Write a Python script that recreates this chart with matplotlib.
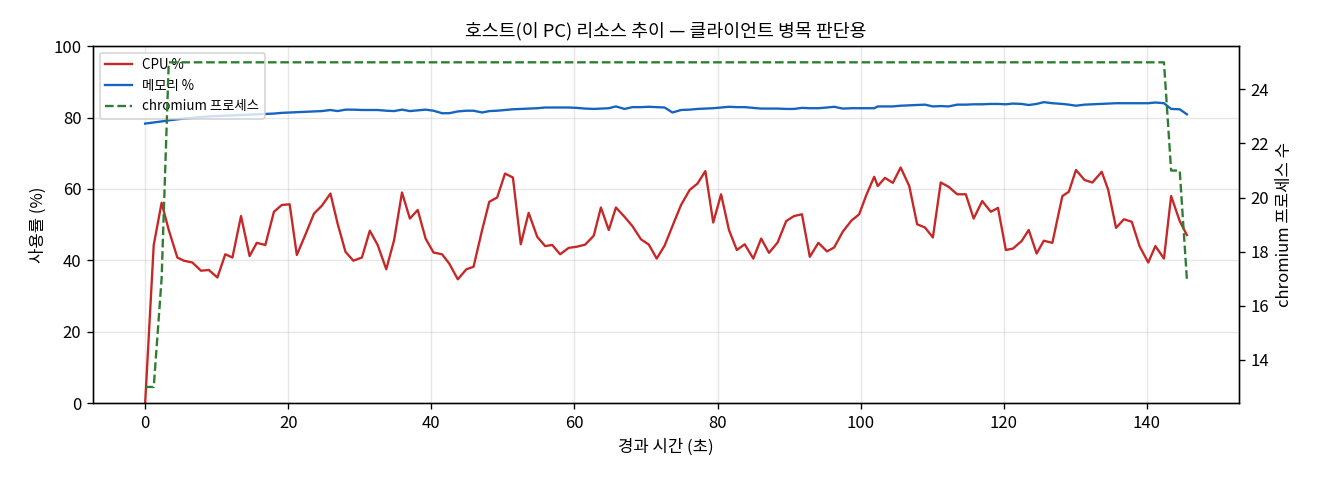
import matplotlib
matplotlib.use("Agg")
import matplotlib.pyplot as plt

plt.rcParams['font.family'] = ['Noto Sans CJK KR', 'DejaVu Sans']
plt.rcParams['axes.unicode_minus'] = False

# elapsed seconds of each sample
t = [0.0, 1.2, 2.3, 3.3, 4.5, 5.4, 6.6, 7.8, 8.9, 10.1,
     11.2, 12.2, 13.4, 14.6, 15.6, 16.8, 18.0, 19.1, 20.2, 21.2,
     22.4, 23.6, 24.7, 25.9, 26.9, 28.0, 29.1, 30.3, 31.4, 32.5,
     33.7, 34.8, 35.9, 37.0, 38.1, 39.2, 40.3, 41.5, 42.5, 43.7,
     44.9, 45.9, 47.1, 48.1, 49.2, 50.3, 51.4, 52.5, 53.6, 54.8,
     55.9, 56.9, 58.0, 59.2, 60.3, 61.5, 62.7, 63.7, 64.8, 65.8,
     67.0, 68.1, 69.3, 70.4, 71.5, 72.6, 73.7, 74.9, 76.1, 77.2,
     78.3, 79.4, 80.5, 81.6, 82.7, 83.8, 85.0, 86.1, 87.2, 88.4,
     89.6, 90.7, 91.8, 92.9, 94.1, 95.3, 96.3, 97.5, 98.7, 99.8,
     100.8, 101.9, 102.4, 103.4, 104.5, 105.6, 106.8, 107.9, 109.0, 110.1,
     111.2, 112.3, 113.5, 114.7, 115.8, 117.0, 118.2, 119.2, 120.3, 121.3,
     122.5, 123.5, 124.6, 125.6, 126.8, 128.2, 129.1, 130.1, 131.3, 132.4,
     133.7, 134.6, 135.7, 136.8, 137.9, 139.0, 140.2, 141.2, 142.4, 143.4,
     144.6, 145.6]

cpu = [0.0, 44.3, 56.1, 48.5, 40.8, 39.9, 39.4, 37.1, 37.3, 35.2,
       41.7, 40.8, 52.4, 41.2, 44.9, 44.3, 53.6, 55.5, 55.7, 41.5,
       47.2, 53.1, 55.3, 58.7, 50.3, 42.4, 39.9, 40.8, 48.3, 44.3,
       37.5, 45.7, 59.0, 51.7, 54.1, 46.1, 42.2, 41.7, 39.1, 34.7,
       37.5, 38.2, 48.5, 56.4, 57.6, 64.3, 63.2, 44.5, 53.3, 46.6,
       44.0, 44.3, 41.7, 43.5, 43.8, 44.4, 46.9, 54.8, 48.5, 54.8,
       52.2, 49.6, 45.9, 44.4, 40.5, 44.1, 49.6, 55.5, 59.7, 61.5,
       65.0, 50.6, 58.5, 48.5, 42.9, 44.5, 40.5, 46.1, 42.1, 45.0,
       51.0, 52.4, 52.9, 41.0, 44.9, 42.5, 43.6, 48.0, 51.1, 52.9,
       58.3, 63.4, 60.8, 63.1, 61.7, 66.0, 60.8, 50.1, 49.2, 46.4,
       61.8, 60.6, 58.5, 58.5, 51.7, 56.6, 53.6, 54.7, 42.9, 43.3,
       45.4, 48.5, 41.9, 45.5, 44.9, 58.0, 59.2, 65.3, 62.5, 61.8,
       64.8, 59.8, 49.1, 51.5, 50.8, 43.9, 39.4, 44.0, 40.5, 58.0,
       51.0, 47.1]

mem = [78.3, 78.6, 78.9, 79.2, 79.5, 79.7, 79.9, 80.1, 80.3, 80.4,
       80.5, 80.6, 80.7, 80.8, 80.9, 81.0, 81.1, 81.3, 81.4, 81.5,
       81.6, 81.7, 81.8, 82.1, 81.8, 82.2, 82.2, 82.1, 82.1, 82.1,
       81.9, 81.8, 82.2, 81.8, 82.0, 82.2, 81.9, 81.2, 81.2, 81.7,
       81.9, 81.9, 81.4, 81.8, 81.9, 82.1, 82.3, 82.4, 82.5, 82.6,
       82.8, 82.8, 82.8, 82.8, 82.7, 82.5, 82.4, 82.5, 82.6, 83.1,
       82.4, 82.9, 82.9, 83.0, 82.9, 82.8, 81.4, 82.1, 82.2, 82.4,
       82.5, 82.6, 82.8, 83.0, 82.9, 82.9, 82.7, 82.5, 82.5, 82.5,
       82.4, 82.4, 82.7, 82.6, 82.6, 82.8, 83.0, 82.5, 82.6, 82.6,
       82.6, 82.6, 83.1, 83.1, 83.1, 83.3, 83.4, 83.5, 83.6, 83.1,
       83.2, 83.1, 83.6, 83.6, 83.7, 83.7, 83.8, 83.8, 83.7, 83.9,
       83.8, 83.5, 83.8, 84.3, 84.0, 83.8, 83.6, 83.3, 83.6, 83.7,
       83.8, 83.9, 84.0, 84.0, 84.0, 84.0, 84.0, 84.2, 84.0, 82.4,
       82.3, 80.9]

procs = [13, 13, 17] + [25] * 126 + [21, 21, 17]

fig, ax = plt.subplots(figsize=(11, 4), dpi=120)
fig.subplots_adjust(left=0.0705, right=0.9386, top=0.904, bottom=0.16)

l1, = ax.plot(t, cpu, color='#c62828', lw=1.4, label='CPU %')
l2, = ax.plot(t, mem, color='#1565c0', lw=1.4, label='메모리 %')
ax.set_ylim(0, 100)
ax.set_xlabel('경과 시간 (초)')
ax.set_ylabel('사용률 (%)')
ax.grid(alpha=0.3)

ax2 = ax.twinx()
l3, = ax2.plot(t, procs, color='#2e7d32', lw=1.4, ls='--', label='chromium 프로세스')
ax2.set_ylabel('chromium 프로세스 수')

ax.set_title('호스트(이 PC) 리소스 추이 — 클라이언트 병목 판단용', fontsize=11)
ax.legend(handles=[l1, l2, l3], loc='upper left', fontsize=8)

plt.savefig('out.png', dpi=120)
